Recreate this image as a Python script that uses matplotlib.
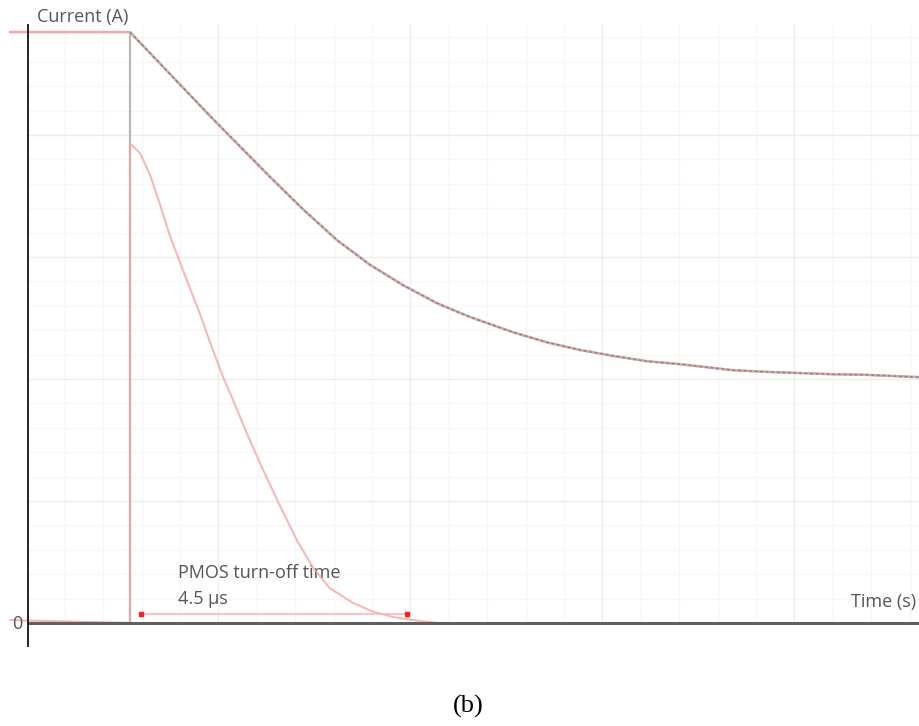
"""PMOS turn-off transient: inductor current and PMOS current vs time."""

import numpy as np
import matplotlib
matplotlib.use("Agg")
import matplotlib.pyplot as plt

# --- Data (time in us, current normalised to the initial load current) ---
t_pre = -2.02  # start of the trace, left of the plotted window

# inductor / load current after switch-off
t_decay = [0.0, 1.35, 2.36, 2.92, 3.49, 4.05, 4.60, 5.18, 5.73, 6.46, 7.03,
           7.59, 8.15, 8.72, 9.28, 10.15, 10.73, 11.28, 11.84, 12.41, 13.31]
i_decay = [1.000, 0.858, 0.755, 0.700, 0.648, 0.606, 0.572, 0.541, 0.518,
           0.492, 0.475, 0.462, 0.452, 0.443, 0.438, 0.428, 0.425, 0.423,
           0.421, 0.420, 0.416]

# PMOS current
t_pmos = [0.0, 0.0, 0.03, 0.17, 0.34, 0.51, 0.67, 0.84, 1.01, 1.18, 1.35,
          1.57, 1.74, 1.97, 2.24, 2.53, 2.82, 3.09, 3.37, 3.76, 4.10, 4.44,
          4.77, 5.20, 13.31]
i_pmos = [0.0, 0.809, 0.809, 0.795, 0.758, 0.707, 0.656, 0.611, 0.567, 0.523,
          0.475, 0.416, 0.377, 0.321, 0.260, 0.198, 0.139, 0.093, 0.059,
          0.034, 0.019, 0.010, 0.005, 0.0, 0.0]

turn_off = (0.19, 4.67)   # measured turn-off window (us)
turn_off_label = "PMOS turn-off time\n4.5 µs"

xlim = (-1.72, 13.305)
ylim = (0.0, 1.012)

fig = plt.figure(figsize=(9.19, 7.26), dpi=100)
ax = fig.add_axes([28 / 919, 103 / 726, 891 / 919, 598 / 726])
ax.set_xlim(*xlim)
ax.set_ylim(*ylim)

# faint oscilloscope-style grid
minor_x = 4.081 + 0.6476 * np.arange(-9, 15)
minor_y = 0.04129 * np.arange(0, 26)
for k, x in enumerate(minor_x):
    ax.axvline(x, color="#ededed" if k % 5 == 0 else "#f6f6f6", lw=1.0, zorder=0)
for k, y in enumerate(minor_y):
    ax.axhline(y, color="#ededed" if k % 5 == 0 else "#f6f6f6", lw=1.0, zorder=0)

# traces
ax.plot([t_pre] + t_decay, [1.0] + i_decay, color="#f0a8a8", lw=1.8,
        clip_on=False, zorder=3)
ax.plot([xlim[0], 0.0] + t_decay, [0.0, 0.0] + i_decay, color="#b8b8b8",
        lw=1.6, zorder=4)
ax.plot(t_decay, i_decay, color="#bf6a6a", lw=1.0, dashes=(2, 2), zorder=5)
ax.plot([t_pre] + t_pmos, [0.005] + i_pmos, color="#f5a0a0", lw=1.5,
        alpha=0.75, clip_on=False, zorder=6)
ax.plot([xlim[0], 0.0], [0.0, 0.0], color="#3a1c1c", lw=1.3, zorder=7)

# turn-off time marker
ax.plot(turn_off, [0.015, 0.015], color="#f8b8b8", lw=1.2, zorder=6)
ax.plot(turn_off, [0.015, 0.015], ls="none", marker="s", ms=3,
        color="#ff2020", zorder=7)
ax.text(0.81, 0.063, turn_off_label, fontsize=13, color="#555555",
        family="Open Sans", va="center", linespacing=1.55)

# axes styling
for side in ("top", "right", "left"):
    ax.spines[side].set_visible(False)
ax.spines["bottom"].set_color("#5f5f5f")
ax.spines["bottom"].set_linewidth(2.2)
ax.spines["bottom"].set_zorder(8)
ax.plot([xlim[0], xlim[0]], [-0.039, ylim[1]], color="#222222", lw=1.4,
        clip_on=False, zorder=9)
ax.set_xticks([])
ax.set_yticks([])

ax.text(-1.57, 1.026, "Current (A)", fontsize=13, color="#555555",
        family="Open Sans", va="center", clip_on=False)
ax.text(0.997, 0.036 / ylim[1], "Time (s)", fontsize=13, color="#555555",
        family="Open Sans", va="center", ha="right", transform=ax.transAxes)
fig.text(17 / 919, 1 - 624 / 726, "0", fontsize=13, color="#555555",
         family="Open Sans", ha="center", va="center")
fig.text(468 / 919, 1 - 706 / 726, "(b)", fontsize=19, color="black",
         family="Liberation Serif", ha="center", va="center")

fig.savefig("out.png", dpi=100)
